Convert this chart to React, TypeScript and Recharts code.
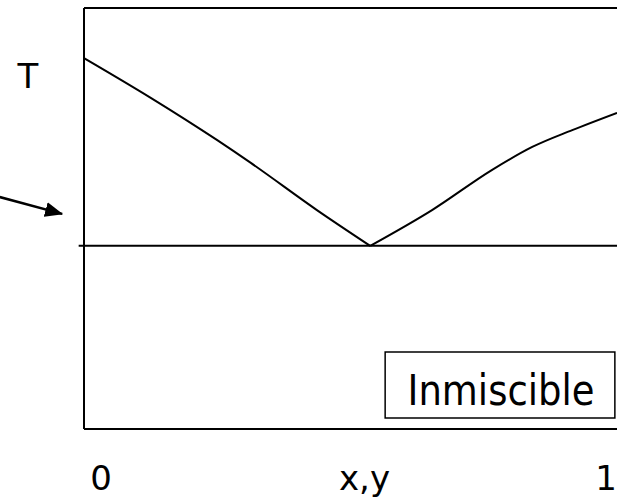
import React from 'react';
import {
  LineChart,
  Line,
  XAxis,
  YAxis,
  ReferenceLine,
  ReferenceArea,
  Label,
} from 'recharts';

// composition (0..1) where the curve was sampled
const xs = [0, 0.126, 0.25, 0.313, 0.437, 0.537, 0.653, 0.765, 0.841, 0.916, 1.0];
// left branch and right branch, T on a 0..100 scale
const leftT = [88.1, 78.6, 68.6, 63.2, 52.0, 43.5, null, null, null, null, null];
const rightT = [null, null, null, null, null, 43.5, 52.0, 61.5, 67.0, 71.0, 75.1];

const eutecticT = 43.5;
const xTicks = [0, 1];
const xTickLabels = ['0', '1'];
const xTitle = 'x,y';
const yTitle = 'T';
const boxLabel = 'Inmiscible';
const boxX = [0.565, 0.996];
const boxY = [2.6, 18.3];
const arrowFrom = { x: -0.158, y: 55.1 };
const arrowTo = { x: -0.041, y: 51.1 };

const data = xs.map((x, i) => ({ x, left: leftT[i], right: rightT[i] }));

const FONT = 'Verdana, "DejaVu Sans", sans-serif';

const XTick = (props: any) => {
  const { x, y, payload } = props;
  const i = xTicks.indexOf(payload.value);
  const dx = i === 0 ? 17 : -7;
  return (
    <text x={x + dx} y={y + 53} textAnchor="middle" fontFamily={FONT} fontSize={34} fill="#000">
      {xTickLabels[i]}
    </text>
  );
};

export default function App() {
  return (
    <div style={{ position: 'absolute', left: 0, top: 0, width: 617, height: 499, background: '#fff' }}>
      <LineChart width={617} height={499} data={data} margin={{ top: 8, right: 0, left: 0, bottom: 0 }}>
        <defs>
          <marker id="arrowHead" markerWidth="18" markerHeight="15" refX="17" refY="7.5" orient="auto" markerUnits="userSpaceOnUse">
            <path d="M0,0 L18,7.5 L0,15 Z" fill="#000" />
          </marker>
        </defs>
        <XAxis
          type="number"
          dataKey="x"
          domain={[0, 1]}
          ticks={xTicks}
          tickLine={false}
          height={70}
          axisLine={{ stroke: '#000', strokeWidth: 2 }}
          tick={<XTick />}
        >
          <Label
            content={(p: any) => {
              const vb = p.viewBox;
              return (
                <text x={vb.x + vb.width / 2 + 14} y={vb.y + 61} textAnchor="middle" fontFamily={FONT} fontSize={34} fill="#000">
                  {xTitle}
                </text>
              );
            }}
          />
        </XAxis>
        <YAxis
          type="number"
          domain={[0, 100]}
          tick={false}
          tickLine={false}
          width={84}
          axisLine={{ stroke: '#000', strokeWidth: 2 }}
        >
          <Label
            content={(p: any) => {
              const vb = p.viewBox;
              return (
                <text x={vb.x + 28} y={vb.y + 80} textAnchor="middle" fontFamily={FONT} fontSize={34} fill="#000">
                  {yTitle}
                </text>
              );
            }}
          />
        </YAxis>
        <ReferenceLine y={100} stroke="#000" strokeWidth={2} />
        <ReferenceLine
          segment={[{ x: -0.01, y: eutecticT }, { x: 1, y: eutecticT }]}
          ifOverflow="visible"
          stroke="#000"
          strokeWidth={2}
        />
        <ReferenceLine
          segment={[arrowFrom, arrowTo]}
          ifOverflow="visible"
          shape={(p: any) => (
            <line x1={p.x1} y1={p.y1} x2={p.x2} y2={p.y2} stroke="#000" strokeWidth={2.5} markerEnd="url(#arrowHead)" />
          )}
        />
        <ReferenceArea
          x1={boxX[0]}
          x2={boxX[1]}
          y1={boxY[0]}
          y2={boxY[1]}
          fill="#fff"
          fillOpacity={1}
          stroke="#000"
          strokeWidth={1.5}
        >
          <Label
            content={(p: any) => {
              const vb = p.viewBox;
              const cx = vb.x + vb.width / 2 + 1;
              const base = vb.y + vb.height / 2 + 20;
              return (
                <text
                  transform={`translate(${cx}, ${base}) scale(1, 1.15)`}
                  textAnchor="middle"
                  fontFamily={FONT}
                  fontSize={37}
                  fill="#000"
                >
                  {boxLabel}
                </text>
              );
            }}
          />
        </ReferenceArea>
        <Line type="monotone" dataKey="left" stroke="#000" strokeWidth={2} dot={false} isAnimationActive={false} />
        <Line type="monotone" dataKey="right" stroke="#000" strokeWidth={2} dot={false} isAnimationActive={false} />
      </LineChart>
    </div>
  );
}
